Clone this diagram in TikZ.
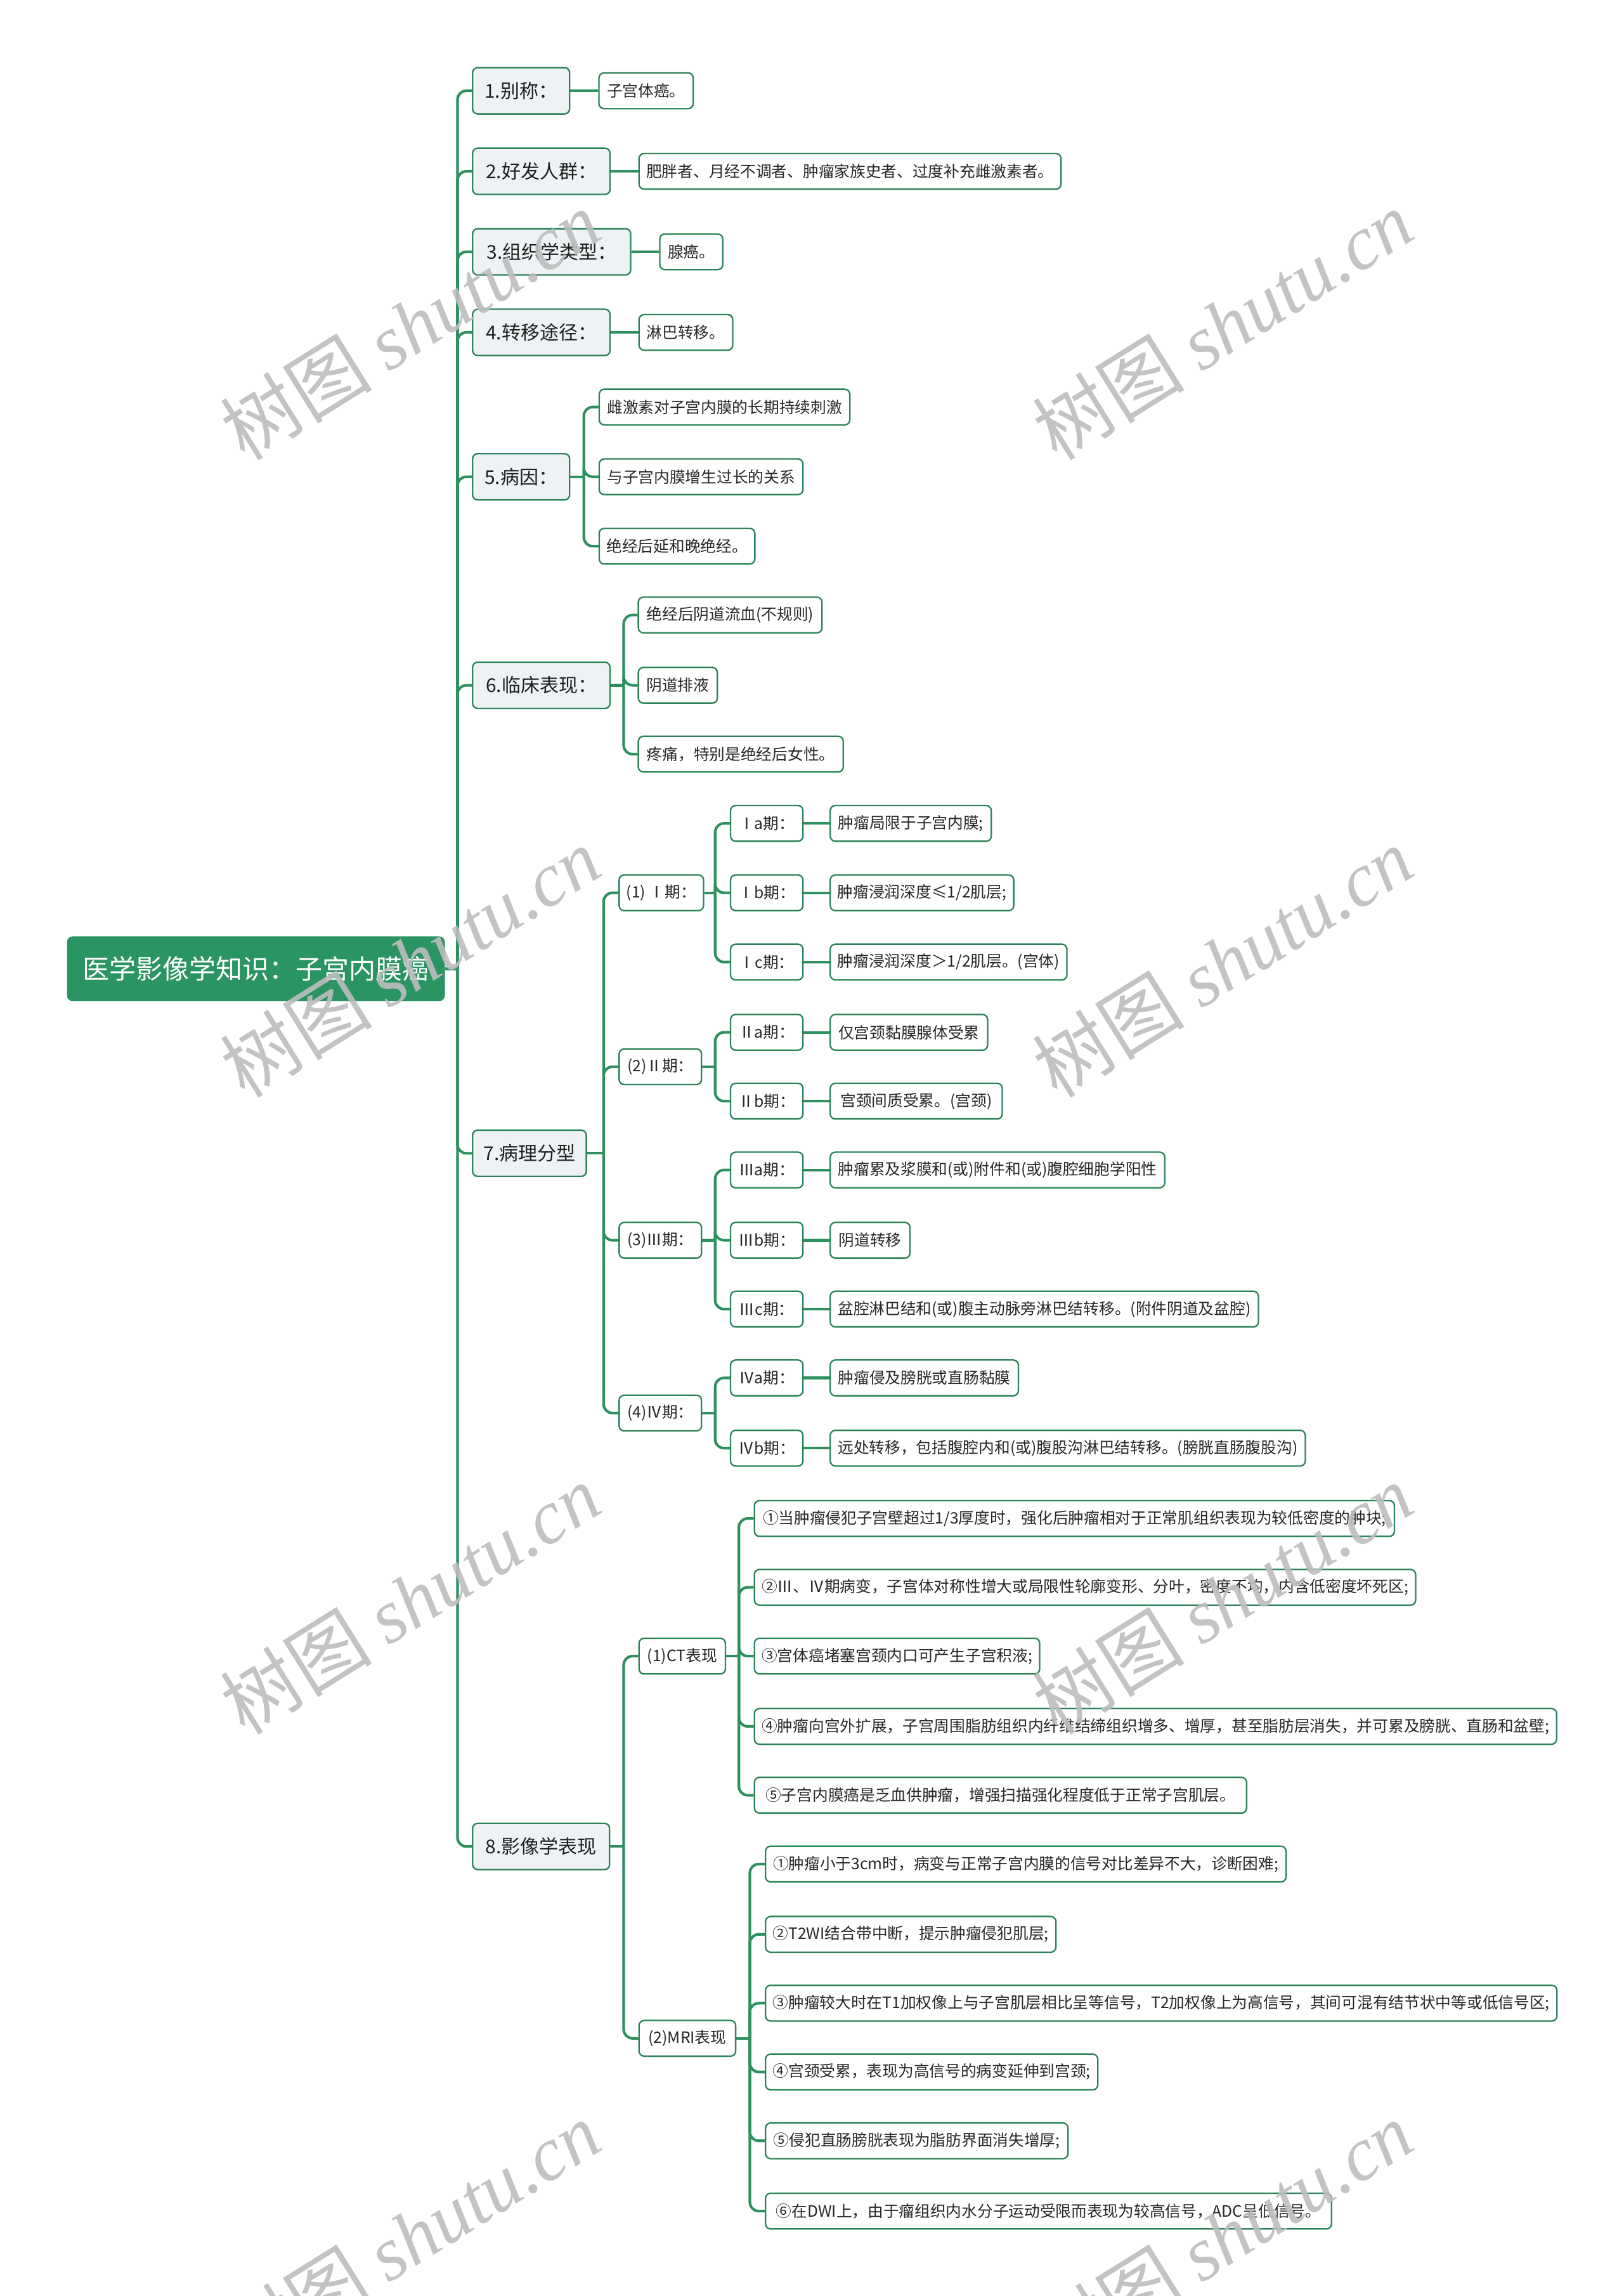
\documentclass[tikz,border=0pt]{standalone}
\usepackage{fontspec}
\setmainfont{Noto Sans CJK SC}
\newfontfamily\wmfont{Liberation Serif}
\definecolor{conn}{HTML}{2E8F5F}
\definecolor{bord}{HTML}{2A8458}
\definecolor{rootfill}{HTML}{2A9462}
\definecolor{lonefill}{HTML}{EEF2F4}
\begin{document}
\begin{tikzpicture}[x=1pt,y=-1pt,
  base/.style={draw=bord, line width=1pt, rounded corners=3.5pt, anchor=west, inner ysep=0pt, align=center},
  rootbox/.style={base, fill=rootfill, draw=rootfill, text=white, inner xsep=10pt, font=\fontsize{18.2pt}{20pt}\selectfont, minimum height=43.2},
  lone/.style={base, fill=lonefill, text=black!88, inner xsep=7pt, font=\fontsize{13pt}{15pt}\selectfont, minimum height=31.6},
  ltwo/.style={base, fill=white, text=black!85, inner xsep=5pt, font=\fontsize{10.7pt}{12pt}\selectfont, minimum height=24.4},
  w/.style={minimum width=#1},
  linkline/.style={draw=conn, line width=1.8pt},
  curvelink/.style={linkline, rounded corners=6pt},
  wm/.style={text=black!26, opacity=0.9, rotate=32, inner sep=0pt, font=\fontsize{52pt}{56pt}\selectfont}
]
\useasboundingbox (0,0) rectangle (1109,1568);
\fill[white] (0,0) rectangle (1109,1568);

% root
\node[rootbox, w=257.2] (root) at (45.7,661.6) {医学影像学知识：子宫内膜癌};

% level one
\node[lone, w=66.3]  (n1) at (322.3,62)    {1.别称：};
\node[lone, w=93.9]  (n2) at (322.3,117)   {2.好发人群：};
\node[lone, w=108]   (n3) at (322.3,172)   {3.组织学类型：};
\node[lone, w=93.9]  (n4) at (322.3,227)   {4.转移途径：};
\node[lone, w=66.3]  (n5) at (322.3,325.6) {5.病因：};
\node[lone, w=93.9]  (n6) at (322.3,468)   {6.临床表现：};
\node[lone, w=77.7]  (n7) at (322.3,787.6) {7.病理分型};
\node[lone, w=93.6]  (n8) at (322.3,1261)  {8.影像学表现};

% children of 1-6
\node[ltwo, w=64.4]  (c1)  at (408.6,62)    {子宫体癌。};
\node[ltwo, w=288]   (c2)  at (436,117)     {肥胖者、月经不调者、肿瘤家族史者、过度补充雌激素者。};
\node[ltwo, w=43]    (c3)  at (450.2,172)   {腺癌。};
\node[ltwo, w=64]    (c4)  at (436,227)     {淋巴转移。};
\node[ltwo, w=171.2] (c5a) at (408.8,278)   {雌激素对子宫内膜的长期持续刺激};
\node[ltwo, w=139.2] (c5b) at (408.8,325.6) {与子宫内膜增生过长的关系};
\node[ltwo, w=106]   (c5c) at (408.8,373)   {绝经后延和晚绝经。};
\node[ltwo, w=125.5] (c6a) at (435.5,420)   {绝经后阴道流血(不规则)};
\node[ltwo, w=54]    (c6b) at (435.5,468)   {阴道排液};
\node[ltwo, w=140]   (c6c) at (435.5,515)   {疼痛，特别是绝经后女性。};

% 7 stages
\node[ltwo, w=56.3] (p1) at (422.4,609.7) {(1) Ⅰ期：};
\node[ltwo, w=56.3] (p2) at (422.4,728.5) {(2)Ⅱ期：};
\node[ltwo, w=56.3] (p3) at (422.4,847)   {(3)Ⅲ期：};
\node[ltwo, w=56.3] (p4) at (422.4,965)   {(4)Ⅳ期：};

\node[ltwo, w=49.5] (s1a) at (498.5,562.3) {Ⅰa期：};
\node[ltwo, w=49.5] (s1b) at (498.5,609.7) {Ⅰb期：};
\node[ltwo, w=49.5] (s1c) at (498.5,657)   {Ⅰc期：};
\node[ltwo, w=49.5] (s2a) at (498.5,705)   {Ⅱa期：};
\node[ltwo, w=49.5] (s2b) at (498.5,752)   {Ⅱb期：};
\node[ltwo, w=49.5] (s3a) at (498.5,799)   {Ⅲa期：};
\node[ltwo, w=49.5] (s3b) at (498.5,847)   {Ⅲb期：};
\node[ltwo, w=49.5] (s3c) at (498.5,894)   {Ⅲc期：};
\node[ltwo, w=49.5] (s4a) at (498.5,941)   {Ⅳa期：};
\node[ltwo, w=49.5] (s4b) at (498.5,989)   {Ⅳb期：};

\node[ltwo, w=110]   (d1a) at (566.6,562.3) {肿瘤局限于子宫内膜;};
\node[ltwo, w=124]   (d1b) at (566.6,609.7) {肿瘤浸润深度≤1/2肌层;};
\node[ltwo, w=160.5] (d1c) at (566.6,657)   {肿瘤浸润深度＞1/2肌层。(宫体)};
\node[ltwo, w=107.5] (d2a) at (566.6,705)   {仅宫颈黏膜腺体受累};
\node[ltwo, w=117.5] (d2b) at (566.6,752)   {宫颈间质受累。(宫颈)};
\node[ltwo, w=228.5] (d3a) at (566.6,799)   {肿瘤累及浆膜和(或)附件和(或)腹腔细胞学阳性};
\node[ltwo, w=54.5]  (d3b) at (566.6,847)   {阴道转移};
\node[ltwo, w=292.5] (d3c) at (566.6,894)   {盆腔淋巴结和(或)腹主动脉旁淋巴结转移。(附件阴道及盆腔)};
\node[ltwo, w=128.5] (d4a) at (566.6,941)   {肿瘤侵及膀胱或直肠黏膜};
\node[ltwo, w=324.5] (d4b) at (566.6,989)   {远处转移，包括腹腔内和(或)腹股沟淋巴结转移。(膀胱直肠腹股沟)};

% 8 imaging
\node[ltwo, w=59] (ct)  at (436,1131) {(1)CT表现};
\node[ltwo, w=66] (mri) at (436,1392) {(2)MRI表现};

\node[ltwo, w=437.2] (ct1) at (514.8,1037) {①当肿瘤侵犯子宫壁超过1/3厚度时，强化后肿瘤相对于正常肌组织表现为较低密度的肿块;};
\node[ltwo, w=451.2] (ct2) at (514.8,1084) {②Ⅲ、Ⅳ期病变，子宫体对称性增大或局限性轮廓变形、分叶，密度不均，内含低密度坏死区;};
\node[ltwo, w=194.2] (ct3) at (514.8,1131) {③宫体癌堵塞宫颈内口可产生子宫积液;};
\node[ltwo, w=547.2] (ct4) at (514.8,1179) {④肿瘤向宫外扩展，子宫周围脂肪组织内纤维结缔组织增多、增厚，甚至脂肪层消失，并可累及膀胱、直肠和盆壁;};
\node[ltwo, w=336.2] (ct5) at (514.8,1226) {⑤子宫内膜癌是乏血供肿瘤，增强扫描强化程度低于正常子宫肌层。};

\node[ltwo, w=355.6] (m1) at (522.4,1273) {①肿瘤小于3cm时，病变与正常子宫内膜的信号对比差异不大，诊断困难;};
\node[ltwo, w=197.6] (m2) at (522.4,1321) {②T2WI结合带中断，提示肿瘤侵犯肌层;};
\node[ltwo, w=539.6] (m3) at (522.4,1368) {③肿瘤较大时在T1加权像上与子宫肌层相比呈等信号，T2加权像上为高信号，其间可混有结节状中等或低信号区;};
\node[ltwo, w=224.6] (m4) at (522.4,1415) {④宫颈受累，表现为高信号的病变延伸到宫颈;};
\node[ltwo, w=206.6] (m5) at (522.4,1462) {⑤侵犯直肠膀胱表现为脂肪界面消失增厚;};
\node[ltwo, w=386.6] (m6) at (522.4,1510) {⑥在DWI上，由于瘤组织内水分子运动受限而表现为较高信号，ADC呈低信号。};

% junction coordinates
\coordinate (t0)  at (312.5,661.6);
\coordinate (b5)  at (398.8,325.6);
\coordinate (b6)  at (426,468);
\coordinate (b7)  at (412.3,787.6);
\coordinate (bp1) at (488.5,609.7);
\coordinate (bp2) at (488.5,728.5);
\coordinate (bp3) at (488.5,847);
\coordinate (bp4) at (488.5,965);
\coordinate (b8)  at (426,1261);
\coordinate (bct) at (504.7,1131);
\coordinate (bmr) at (512.2,1392);

% connectors
\draw[linkline] (root.east) -- (t0);
\foreach \n in {n1,n2,n3,n4,n5,n6,n7,n8} \draw[curvelink] (t0) |- (\n.west);

\draw[linkline] (n1.east) -- (c1.west);
\draw[linkline] (n2.east) -- (c2.west);
\draw[linkline] (n3.east) -- (c3.west);
\draw[linkline] (n4.east) -- (c4.west);

\draw[linkline] (n5.east) -- (b5);
\foreach \c in {c5a,c5b,c5c} \draw[curvelink] (b5) |- (\c.west);
\draw[linkline] (n6.east) -- (b6);
\foreach \c in {c6a,c6b,c6c} \draw[curvelink] (b6) |- (\c.west);

\draw[linkline] (n7.east) -- (b7);
\foreach \c in {p1,p2,p3,p4} \draw[curvelink] (b7) |- (\c.west);
\draw[linkline] (p1.east) -- (bp1);
\foreach \c in {s1a,s1b,s1c} \draw[curvelink] (bp1) |- (\c.west);
\draw[linkline] (p2.east) -- (bp2);
\foreach \c in {s2a,s2b} \draw[curvelink] (bp2) |- (\c.west);
\draw[linkline] (p3.east) -- (bp3);
\foreach \c in {s3a,s3b,s3c} \draw[curvelink] (bp3) |- (\c.west);
\draw[linkline] (p4.east) -- (bp4);
\foreach \c in {s4a,s4b} \draw[curvelink] (bp4) |- (\c.west);
\foreach \s/\d in {s1a/d1a,s1b/d1b,s1c/d1c,s2a/d2a,s2b/d2b,s3a/d3a,s3b/d3b,s3c/d3c,s4a/d4a,s4b/d4b}
  \draw[linkline] (\s.east) -- (\d.west);

\draw[linkline] (n8.east) -- (b8);
\foreach \c in {ct,mri} \draw[curvelink] (b8) |- (\c.west);
\draw[linkline] (ct.east) -- (bct);
\foreach \c in {ct1,ct2,ct3,ct4,ct5} \draw[curvelink] (bct) |- (\c.west);
\draw[linkline] (mri.east) -- (bmr);
\foreach \c in {m1,m2,m3,m4,m5,m6} \draw[curvelink] (bmr) |- (\c.west);

% watermarks
\foreach \i/\x/\y in {1/280/222,2/835/222,3/280/657,4/835/657,5/280/1092,6/835/1092,7/280/1527,8/835/1527}
  \node[wm] (wm\i) at (\x,\y) {树图 {\wmfont\itshape shutu.cn}};
\end{tikzpicture}
\end{document}
